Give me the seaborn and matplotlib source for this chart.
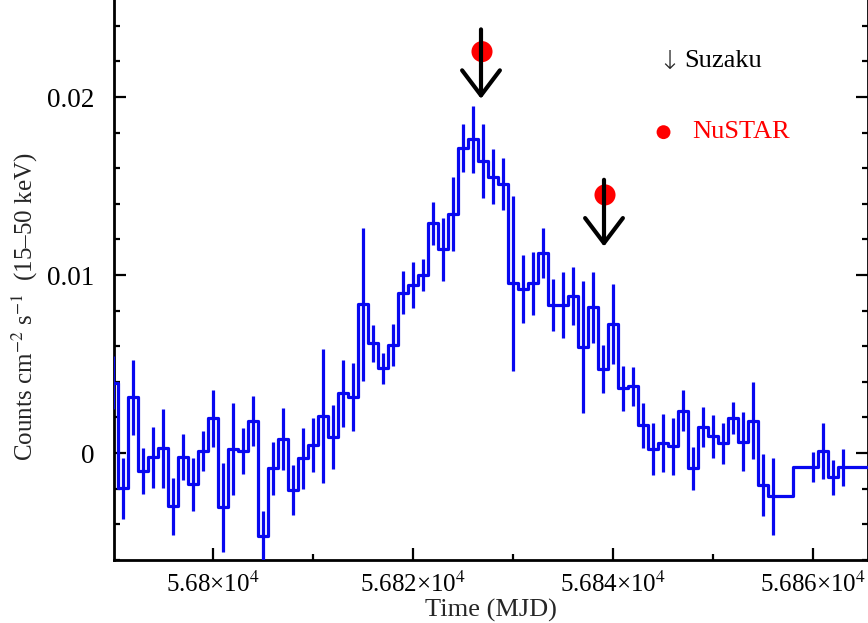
import numpy as np
import pandas as pd
import matplotlib
matplotlib.use("Agg")
import matplotlib.pyplot as plt
import seaborn as sns
from matplotlib.ticker import MultipleLocator, FuncFormatter

# Daily 15-50 keV light curve (MJD, rate, 1-sigma error)
mjd = [56790, 56791, 56792, 56793, 56794, 56795, 56796, 56797, 56798, 56799,
       56800, 56801, 56802, 56803, 56804, 56805, 56806, 56807, 56808, 56809,
       56810, 56811, 56812, 56813, 56814, 56815, 56816, 56817, 56818, 56819,
       56820, 56821, 56822, 56823, 56824, 56825, 56826, 56827, 56828, 56829,
       56830, 56831, 56832, 56833, 56834, 56835, 56836, 56837, 56838, 56839,
       56840, 56841, 56842, 56843, 56844, 56845, 56846, 56847, 56848, 56849,
       56850, 56851, 56852, 56853, 56854, 56855, 56856, 56860, 56861, 56862,
       56863, 56867]
rate = [0.00395, -0.00198, 0.00313, -0.00101, -0.00024, 0.00026, -0.00298, -0.00024, -0.00176, 0.00011,
        0.00195, -0.00305, 0.00022, 0.00013, 0.00182, -0.00466, -0.00086, 0.00077, -0.00208, -0.00030,
        0.00045, 0.00208, 0.00088, 0.00335, 0.00313, 0.00835, 0.00616, 0.00476, 0.00607, 0.00900,
        0.00944, 0.01000, 0.01290, 0.01144, 0.01343, 0.01712, 0.01762, 0.01640, 0.01552, 0.01511,
        0.00953, 0.00920, 0.00953, 0.01125, 0.00831, 0.00831, 0.00882, 0.00597, 0.00818, 0.00472,
        0.00725, 0.00363, 0.00376, 0.00157, 0.00021, 0.00058, 0.00039, 0.00238, -0.00086, 0.00144,
        0.00094, 0.00054, 0.00195, 0.00064, 0.00182, -0.00180, -0.00242, -0.00080, 0.00010, -0.00137,
        -0.00080, -0.00080]
rate_err = [0.00150, 0.00170, 0.00210, 0.00130, 0.00170, 0.00220, 0.00160, 0.00130, 0.00150, 0.00110,
            0.00160, 0.00250, 0.00260, 0.00130, 0.00140, 0.00140, 0.00150, 0.00175, 0.00143, 0.00170,
            0.00154, 0.00375, 0.00180, 0.00187, 0.00190, 0.00430, 0.00103, 0.00087, 0.00118, 0.00120,
            0.00130, 0.00090, 0.00120, 0.00175, 0.00210, 0.00134, 0.00187, 0.00210, 0.00155, 0.00145,
            0.00490, 0.00192, 0.00178, 0.00140, 0.00147, 0.00187, 0.00164, 0.00370, 0.00200, 0.00134,
            0.00223, 0.00128, 0.00110, 0.00126, 0.00145, 0.00163, 0.00160, 0.00114, 0.00122, 0.00112,
            0.00120, 0.00117, 0.00090, 0.00166, 0.00217, 0.00174, 0.00216, 0.00084, 0.00157, 0.00100,
            0.00103, 0.00100]

# Pointed observations
suzaku_mjd = [56826.8, 56839.1]
suzaku_top = [0.02380, 0.01535]
suzaku_tip = [0.01990, 0.01160]
nustar_mjd = [56826.9, 56839.2]
nustar_rate = [0.02255, 0.01450]

xticks = [56800, 56820, 56840, 56860]
yticks = [0.0, 0.01, 0.02]

df = pd.DataFrame({"mjd": mjd, "rate": rate, "err": rate_err})

sns.set_style("ticks")
plt.rcParams["font.family"] = ["Liberation Serif", "DejaVu Serif"]
plt.rcParams["mathtext.fontset"] = "stix"

fig = plt.figure(figsize=(8.68, 6.23), dpi=100)
ax = fig.add_axes([113.5 / 868, 63 / 623, 1 - 113.5 / 868, 560 / 623])

blue = "#0808f0"
sns.lineplot(data=df, x="mjd", y="rate", ax=ax, drawstyle="steps-mid",
             color=blue, lw=2.3, estimator=None, sort=False, zorder=3)
ax.vlines(df["mjd"], df["rate"] - df["err"], df["rate"] + df["err"],
          color=blue, lw=2.3, zorder=3)

ax.scatter(nustar_mjd, nustar_rate, s=230, color="#ff0000", edgecolor="none", zorder=4)
for x, top, tip in zip(suzaku_mjd, suzaku_top, suzaku_tip):
    ax.annotate("", xy=(x, tip), xytext=(x, top),
                arrowprops=dict(arrowstyle="->,head_length=0.9,head_width=0.68",
                                mutation_scale=20, lw=3, color="black",
                                shrinkA=0, shrinkB=0), zorder=5)

ax.set_xlim(56790.05, 56865.5)
ax.set_ylim(-0.00601, 0.02545)
ax.set_xticks(xticks)
ax.set_yticks(yticks)
ax.xaxis.set_minor_locator(MultipleLocator(10))
ax.yaxis.set_minor_locator(MultipleLocator(0.002))
ax.xaxis.set_major_formatter(FuncFormatter(lambda v, p: "%g×10$^{4}$" % (v / 1e4)))
ax.yaxis.set_major_formatter(FuncFormatter(lambda v, p: "0" if v == 0 else "%g" % v))

ax.tick_params(which="both", direction="in", top=False, right=True,
               width=1.6, colors="black")
ax.tick_params(which="major", length=8.5, pad=8)
ax.tick_params(which="minor", length=4.3)
ax.tick_params(axis="x", labelsize=18)
ax.tick_params(axis="y", labelsize=19.5)
ax.tick_params(axis="y", which="major", pad=13.5)

ax.spines["top"].set_visible(False)
for s in ("left", "bottom", "right"):
    ax.spines[s].set_linewidth(2.0)
    ax.spines[s].set_color("black")

ax.set_xlabel("Time (MJD)", fontsize=19)
ax.xaxis.set_label_coords(0.5, -0.07)
ax.set_ylabel(r"Counts cm$^{-2}$ s$^{-1}$  (15–50 keV)", fontsize=18)
ax.yaxis.set_label_coords(-0.097, 0.452)

# Key
ax.text(0.722, 0.891, "↓", transform=ax.transAxes, fontsize=19,
        ha="left", va="center", family=["DejaVu Sans"], fontweight="light")
ax.text(0.757, 0.891, "Suzaku", transform=ax.transAxes, fontsize=19,
        ha="left", va="center", color="black")
ax.scatter([0.729], [0.764], s=100, color="#ff0000", edgecolor="none",
           transform=ax.transAxes, clip_on=False, zorder=4)
ax.text(0.767, 0.764, "NuSTAR", transform=ax.transAxes, fontsize=19,
        ha="left", va="center", color="#ff0000")

fig.savefig("out.png", dpi=100, facecolor="white")
